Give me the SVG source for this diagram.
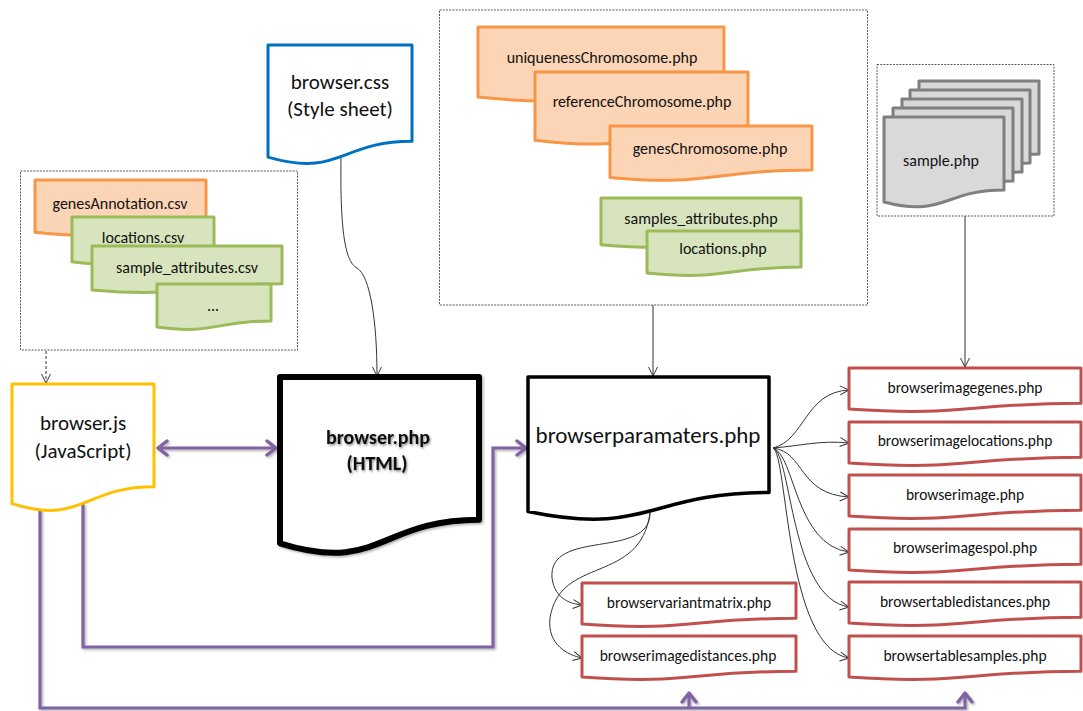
<svg xmlns="http://www.w3.org/2000/svg" width="1083" height="711" viewBox="0 0 1083 711">
<style>
text{font-family:Carlito,Lato,"Liberation Sans",sans-serif;fill:#111;text-anchor:middle;dominant-baseline:central}
.s{font-size:16px}
.r{font-size:15.5px}
.m{font-size:21px}
.dash{fill:none;stroke:#444;stroke-width:0.9;stroke-dasharray:2 1.2}
.or{fill:#FBD5B5;stroke:#F79646;stroke-width:3;stroke-linejoin:round}
.gr{fill:#D7E4BD;stroke:#9BBB59;stroke-width:3;stroke-linejoin:round}
.rb{fill:#fff;stroke:#C0504D;stroke-width:3;stroke-linejoin:round}
.gy{fill:#D9D9D9;stroke:#7F7F7F;stroke-width:3;stroke-linejoin:round}
.thin{fill:none;stroke:#333;stroke-width:1}
.pu{fill:none;stroke:#8064A2;stroke-width:3.2}
</style>
<defs>
<marker id="oa" viewBox="0 0 11 11" refX="10" refY="5.5" markerWidth="11" markerHeight="11" markerUnits="userSpaceOnUse" orient="auto">
<path d="M1,1 L10,5.5 L1,10" fill="none" stroke="#333" stroke-width="1"/>
</marker>
<marker id="pa" viewBox="0 0 14 18" refX="11" refY="9" markerWidth="14" markerHeight="18" markerUnits="userSpaceOnUse" orient="auto-start-reverse">
<path d="M2,2 L11,9 L2,16" fill="none" stroke="#8064A2" stroke-width="3.4" stroke-linecap="round" stroke-linejoin="round"/>
</marker>
<filter id="sh" x="-10%" y="-10%" width="130%" height="130%">
<feDropShadow dx="1.5" dy="1.5" stdDeviation="1" flood-color="#000" flood-opacity="0.3"/>
</filter>
<filter id="tsh" x="-10%" y="-30%" width="130%" height="170%">
<feDropShadow dx="1" dy="1.5" stdDeviation="1.2" flood-color="#000" flood-opacity="0.45"/>
</filter>
<path id="samp" d="M0,0 H120 V73 C60,73 60,100.8 0,85 Z"/>
<path id="rbox" d="M0,0 H232 V35.3 C116,35.3 116,48.8 0,41.1 Z"/>
<path id="lbox" d="M0,0 H214 V35.3 C107,35.3 107,48.8 0,41.1 Z"/>
</defs>
<rect width="1083" height="711" fill="#fff"/>

<g id="connectors">
<path class="thin" d="M46,351 V383" stroke-dasharray="3 2" marker-end="url(#oa)"/>
<path class="thin" d="M341,158 C340,230 345,262 357,268 C370,276 377,320 377,376" marker-end="url(#oa)"/>
<path class="thin" d="M653,305 V376" stroke="#555" marker-end="url(#oa)"/>
<path class="thin" d="M965,216 V367" stroke="#666" marker-end="url(#oa)"/>
<path class="thin" d="M773,448 C805,440 805,392 849,390" marker-end="url(#oa)"/>
<path class="thin" d="M773,448 C800,446 820,440 849,443" marker-end="url(#oa)"/>
<path class="thin" d="M773,448 C805,452 798,494 849,497" marker-end="url(#oa)"/>
<path class="thin" d="M773,448 C795,455 795,545 849,552" marker-end="url(#oa)"/>
<path class="thin" d="M773,448 C792,455 790,598 849,607" marker-end="url(#oa)"/>
<path class="thin" d="M773,448 C788,455 785,648 849,658" marker-end="url(#oa)"/>
<path class="thin" d="M650,513 C650,560 548,528 552,578 C555,600 572,604 582,605" marker-end="url(#oa)"/>
<path class="thin" d="M650,513 C640,585 560,555 550,618 C547,645 568,655 582,658" marker-end="url(#oa)"/>
<g filter="url(#sh)">
<path class="pu" d="M158,448 H276" marker-start="url(#pa)" marker-end="url(#pa)"/>
<path class="pu" d="M83,504 V647 H493 V448 H526" marker-end="url(#pa)"/>
<path class="pu" d="M40,509 V708 H965 V693" marker-end="url(#pa)"/>
<path class="pu" d="M689,708 V693" marker-end="url(#pa)"/>
</g>
</g>

<g id="csv-group">
<rect class="dash" x="20.5" y="171" width="277" height="179"/>
<g id="genesAnnotation"><path class="or" d="M35,180 H206 V224.9 C120.5,224.9 120.5,242 35,232.3 Z"/><text class="s" x="120" y="203">genesAnnotation.csv</text></g>
<g id="locations-csv"><path class="gr" d="M72,217 H214 V255.5 C143,255.5 143,270.2 72,261.8 Z"/><text class="s" x="143" y="237">locations.csv</text></g>
<g id="sample-attributes-csv"><path class="gr" d="M92,246 H282 V283.7 C187,283.7 187,298.1 92,289.9 Z"/><text class="s" x="187" y="267">sample_attributes.csv</text></g>
<g id="more-csv"><path class="gr" d="M157,284 H271 V320.9 C214,320.9 214,335 157,327 Z"/><text class="s" x="213" y="305">...</text></g>
</g>

<g id="browser-css"><path fill="#fff" stroke="#0070C0" stroke-width="3" stroke-linejoin="round" d="M268,45 H412 V141.2 C340,141.2 340,178 268,157.1 Z"/><text class="m" x="340" y="82">browser.css</text><text class="m" x="340" y="109">(Style sheet)</text></g>

<g id="php-group">
<rect class="dash" x="439.5" y="10" width="428" height="295"/>
<g id="uniquenessChromosome"><path class="or" d="M478,27 H724 V87.2 C601,87.2 601,110.1 478,97 Z"/><text class="s" x="602" y="57">uniquenessChromosome.php</text></g>
<g id="referenceChromosome"><path class="or" d="M535,72 H748 V130.5 C641.5,130.5 641.5,152.9 535,140.2 Z"/><text class="s" x="642" y="101">referenceChromosome.php</text></g>
<g id="genesChromosome"><path class="or" d="M610,126 H812 V170.1 C711,170.1 711,186.9 610,177.4 Z"/><text class="s" x="710" y="148">genesChromosome.php</text></g>
<g id="samples-attributes-php"><path class="gr" d="M601,198 H801 V238.1 C701,238.1 701,253.4 601,244.7 Z"/><text class="s" x="701" y="218">samples_attributes.php</text></g>
<g id="locations-php"><path class="gr" d="M647,231 H801 V267.1 C724,267.1 724,280.9 647,273 Z"/><text class="s" x="723" y="248">locations.php</text></g>
</g>

<g id="sample-group">
<rect class="dash" x="877" y="64.5" width="177" height="151.5"/>
<use href="#samp" class="gy" x="919" y="81"/>
<use href="#samp" class="gy" x="910" y="90"/>
<use href="#samp" class="gy" x="902" y="99"/>
<use href="#samp" class="gy" x="893" y="108"/>
<use href="#samp" class="gy" x="884" y="117"/>
<text class="s" x="941" y="160">sample.php</text>
</g>

<g id="browser-js"><path fill="#fff" stroke="#FFC000" stroke-width="3" stroke-linejoin="round" d="M12,384 H154 V486.7 C83,486.7 83,525.8 12,503.6 Z"/><text class="m" x="83" y="423">browser.js</text><text class="m" x="83" y="451">(JavaScript)</text></g>

<g id="browser-php"><path fill="#fff" stroke="#000" stroke-width="6" stroke-linejoin="round" filter="url(#sh)" d="M280,377 H479 V519.8 C379.5,519.8 379.5,574.2 280,543.3 Z"/><g filter="url(#tsh)"><text class="m" x="378" y="437" font-weight="bold" style="font-size:20px">browser.php</text><text class="m" x="377" y="463" font-weight="bold" style="font-size:20px">(HTML)</text></g></g>

<g id="browserparamaters"><path fill="#fff" stroke="#000" stroke-width="3.5" stroke-linejoin="round" d="M528,377 H769 V492.5 C648.5,492.5 648.5,536.6 528,511.5 Z"/><text x="648" y="435" style="font-size:23px">browserparamaters.php</text></g>

<g id="browserimagegenes"><use href="#rbox" class="rb" x="849" y="368"/><text class="r" x="965" y="387">browserimagegenes.php</text></g>
<g id="browserimagelocations"><use href="#rbox" class="rb" x="849" y="422"/><text class="r" x="965" y="440">browserimagelocations.php</text></g>
<g id="browserimage"><use href="#rbox" class="rb" x="849" y="475"/><text class="r" x="965" y="494">browserimage.php</text></g>
<g id="browserimagespol"><use href="#rbox" class="rb" x="849" y="529"/><text class="r" x="965" y="547">browserimagespol.php</text></g>
<g id="browsertabledistances"><use href="#rbox" class="rb" x="849" y="582"/><text class="r" x="965" y="601">browsertabledistances.php</text></g>
<g id="browsertablesamples"><use href="#rbox" class="rb" x="849" y="636"/><text class="r" x="965" y="655">browsertablesamples.php</text></g>
<g id="browservariantmatrix"><use href="#lbox" class="rb" x="582" y="583"/><text class="r" x="689" y="602">browservariantmatrix.php</text></g>
<g id="browserimagedistances"><use href="#lbox" class="rb" x="582" y="636"/><text class="r" x="688" y="655">browserimagedistances.php</text></g>
</svg>
